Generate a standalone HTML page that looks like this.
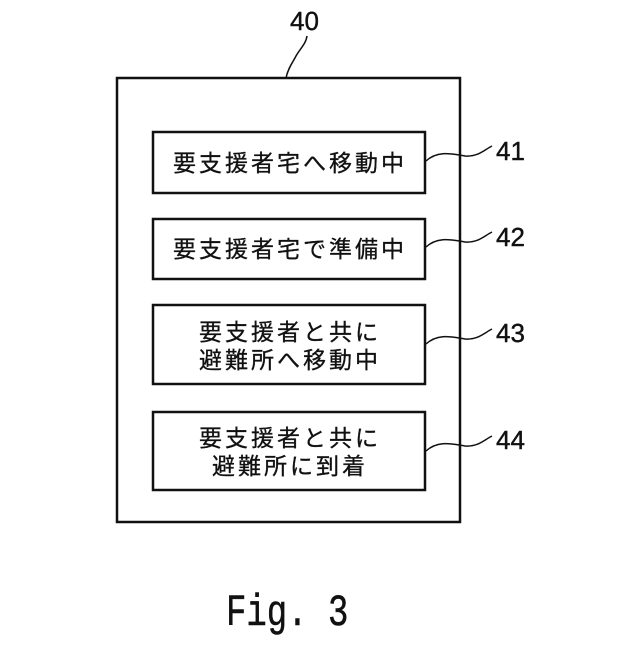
<!DOCTYPE html>
<html><head><meta charset="utf-8"><style>
html,body{margin:0;padding:0;background:#fff;}
</style></head><body>
<svg width="640" height="640" viewBox="0 0 640 640" xmlns="http://www.w3.org/2000/svg">
<g fill="none" stroke="#111" stroke-width="2.5">
<rect x="117" y="78" width="343" height="444"/>
<rect x="153" y="132" width="272" height="61"/>
<rect x="153" y="219" width="272" height="60"/>
<rect x="153" y="305" width="272" height="79"/>
<rect x="153" y="412" width="272" height="78"/>
</g>
<g fill="none" stroke="#111" stroke-width="1.5">
<path d="M286 78 C288 68 293 62 296 56 C299 50 306 44 307 36"/>
<path d="M426 161 C438 150 452 154 465 156 C478 157 484 150 492 146"/>
<path d="M426 247 C438 236 452 240 465 242 C478 243 484 236 492 232"/>
<path d="M426 344 C438 333 452 337 465 339 C478 340 484 333 492 329"/>
<path d="M426 451 C438 440 452 444 465 446 C478 447 484 440 492 436"/>
</g>
<g font-family="Liberation Sans, sans-serif" font-size="26" fill="#111" stroke="#111" stroke-width="0.4">
<text x="290" y="30">40</text>
<text x="496" y="160">41</text>
<text x="496" y="246">42</text>
<text x="496" y="342">43</text>
<text x="496" y="449">44</text>
</g>
<g font-family="Liberation Sans, 'Noto Sans CJK JP', sans-serif" font-size="23" fill="#111" stroke="#111" stroke-width="0.3" text-anchor="middle" letter-spacing="3">
<text x="290" y="171">要支援者宅へ移動中</text>
<text x="290" y="257">要支援者宅で準備中</text>
<text x="290" y="340">要支援者と共に</text>
<text x="290" y="368">避難所へ移動中</text>
<text x="290" y="446">要支援者と共に</text>
<text x="290" y="474">避難所に到着</text>
</g>
<text x="0" y="0" font-family="Liberation Mono, monospace" font-size="34" fill="#111" stroke="#111" stroke-width="0.4" transform="translate(226 625) scale(1 1.3)">Fig. 3</text>
</svg>
</body></html>
